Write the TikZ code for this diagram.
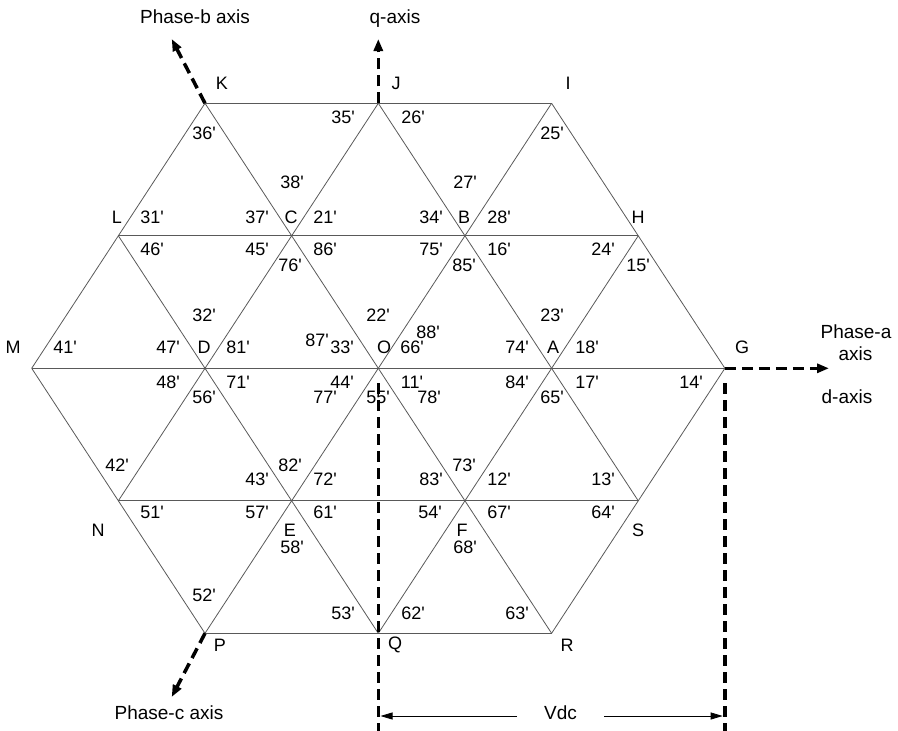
\documentclass[tikz,border=0pt]{standalone}
\usepackage{fontspec}
\setmainfont{Liberation Sans}
\usetikzlibrary{arrows.meta}
\begin{document}
\begin{tikzpicture}[x=1pt,y=-1pt,
  gridline/.style={draw=black!65,line width=0.8pt},
  axisline/.style={line width=3.5pt,dash pattern=on 11pt off 6pt,-{Triangle[length=12pt,width=9pt]}},
  dashline/.style={line width=3.5pt,dash pattern=on 11pt off 6pt},
  dimline/.style={line width=0.8pt,-{Triangle[length=12pt,width=7pt]}},
  num/.style={inner sep=0pt,font=\fontsize{18}{20}\selectfont},
  vlab/.style={inner sep=0pt,font=\fontsize{18}{20}\selectfont},
  axlab/.style={inner sep=0pt,anchor=base,font=\fontsize{19}{22}\selectfont}]
\useasboundingbox (0,0) rectangle (898,731);
% lattice points
\foreach \n/\i/\j in {O/0/0,A/2/0,G/4/0,D/-2/0,M/-4/0,B/1/1,C/-1/1,H/3/1,L/-3/1,
  I/2/2,J/0/2,K/-2/2,E/-1/-1,F/1/-1,N/-3/-1,S/3/-1,P/-2/-2,Q/0/-2,R/2/-2}
  \coordinate (p\n) at ({378.3+86.65*\i},{368.3-132.5*\j});
% grid
\draw[gridline] (pK) -- (pI) (pL) -- (pH) (pM) -- (pG) (pN) -- (pS) (pP) -- (pR);
\draw[gridline] (pM) -- (pK) (pN) -- (pJ) (pP) -- (pI) (pQ) -- (pH) (pR) -- (pG);
\draw[gridline] (pM) -- (pP) (pL) -- (pQ) (pK) -- (pR) (pJ) -- (pS) (pI) -- (pG);
% vertex labels
\foreach \t/\x/\y in {K/222/83,J/396/83,I/568/83,L/117/217,C/291/217,B/464/217,H/638/217,
  M/13/347,D/204/347,O/384/347,A/553/347,G/742/347,N/98/530,E/290/530,F/462/530,S/638/530,
  P/220/645,Q/395/645,R/567/645}
  \node[vlab] (v\t) at (\x,\y) {\t};
% state labels
\foreach \t/\x/\y in {35/343/117,26/413/117,36/204/133,25/552/133,38/292/182,27/465/182,
  31/152/217,37/257/217,21/325/217,34/431/217,28/499/217,
  46/152/249,45/257/249,86/325/249,75/431/249,16/499/249,24/603/249,
  76/290/265,85/464/265,15/638/265,
  32/204/315,22/378/315,23/552/315,88/428/332,87/317/340,
  41/65/347,47/168/347,81/238/347,33/342/347,66/412/347,74/517/347,18/587/347,
  48/168/382,71/238/382,44/342/382,11/412/382,84/517/382,17/587/382,14/691/382,
  56/204/397,77/325/397,55/378/397,78/429/397,65/552/397,
  42/117/465,82/290/465,73/464/465,
  43/257/479,72/325/479,83/431/479,12/499/479,13/603/479,
  51/152/512,57/257/512,61/325/512,54/430/512,67/499/512,64/603/512,
  58/292/547,68/465/547,52/204/595,53/343/613,62/413/613,63/517/613}
  \node[num] (n\t) at (\x,\y) {\t\textquotesingle};
% axes
\coordinate (tb) at (171.7,39);
\coordinate (tq) at (378.3,39);
\coordinate (ta) at (829,368.3);
\coordinate (tc) at (171.7,697);
\draw[axisline] (pK) -- (tb);
\draw[axisline] (pJ) -- (tq);
\draw[axisline] (pG) -- (ta);
\draw[axisline] (pP) -- (tc);
\coordinate (v1a) at (378.3,383); \coordinate (v1b) at (378.3,731);
\coordinate (v2a) at (724.9,383); \coordinate (v2b) at (724.9,731);
\draw[dashline] (v1a) -- (v1b);
\draw[dashline] (v2a) -- (v2b);
% axis labels
\node[axlab] (tphb) at (195,23.3) {Phase-b axis};
\node[axlab] (tqax) at (395,23.3) {q-axis};
\node[axlab] (tpha1) at (856,338) {Phase-a};
\node[axlab] (tpha2) at (855.5,360) {axis};
\node[axlab] (tdax) at (847,403) {d-axis};
\node[axlab] (tphc) at (169,719) {Phase-c axis};
% Vdc dimension
\node[axlab] (tvdc) at (560.5,719) {Vdc};
\coordinate (vdcl) at (517,716); \coordinate (vdcr) at (604,716);
\coordinate (vl) at (380.5,716); \coordinate (vr) at (722.7,716);
\draw[dimline] (vdcl) -- (vl);
\draw[dimline] (vdcr) -- (vr);
\end{tikzpicture}
\end{document}
